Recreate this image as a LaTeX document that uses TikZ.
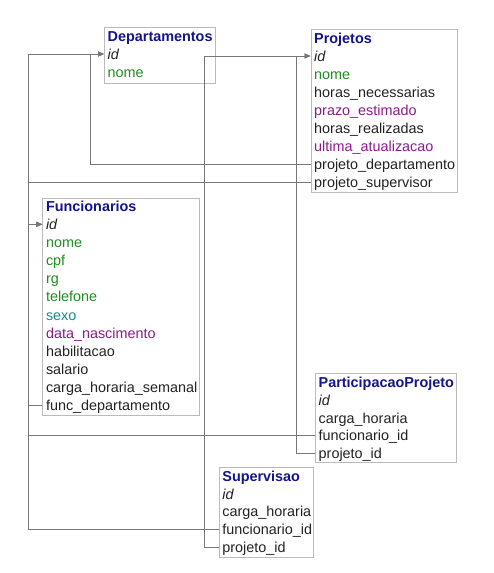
\documentclass[tikz,border=0pt]{standalone}
\usepackage{fontspec}
\setmainfont{Liberation Sans}
\usetikzlibrary{arrows.meta}
\definecolor{ttl}{HTML}{14148C}
\definecolor{grn}{HTML}{228B22}
\definecolor{prp}{HTML}{8B1A8B}
\definecolor{tel}{HTML}{1A8A8A}
\definecolor{txt}{HTML}{222222}
\definecolor{brd}{HTML}{BBBBBB}
\definecolor{lin}{HTML}{777777}
\tikzset{
  tbl/.style={draw=brd, line width=1pt, anchor=north west, inner sep=0pt},
  row/.style={anchor=west, inner xsep=3.5pt, inner ysep=0pt, text height=10.4pt, text depth=0pt,
              font=\fontsize{14.4}{16}\selectfont, text=txt},
  ttlrow/.style={row, font=\fontsize{14.4}{16}\selectfont\bfseries, text=ttl},
  conn/.style={draw=lin, line width=1pt},
  fk/.style={conn, -{Triangle[length=6pt,width=5pt]}}
}
\begin{document}
\begin{tikzpicture}[x=1pt,y=-1pt]
\useasboundingbox (0,0) rectangle (493,573);

% Departamentos
\node[tbl, minimum width=111pt, minimum height=55.4pt] (dep) at (104,27.3) {};
\node[ttlrow] (d-t) at (104,36.5) {Departamentos};
\node[row] (d-id) at (104,54) {\itshape id};
\node[row, text=grn] (d-nome) at (104,72) {nome};

% Projetos
\node[tbl, minimum width=146pt, minimum height=163pt] (proj) at (310.5,29.3) {};
\node[ttlrow] (p-t) at (310.5,38) {Projetos};
\node[row] (p-id) at (310.5,56) {\itshape id};
\node[row, text=grn] (p-nome) at (310.5,74) {nome};
\node[row] (p-hn) at (310.5,92) {horas\_necessarias};
\node[row, text=prp] (p-pe) at (310.5,110) {prazo\_estimado};
\node[row] (p-hr) at (310.5,128) {horas\_realizadas};
\node[row, text=prp] (p-ua) at (310.5,146) {ultima\_atualizacao};
\node[row] (p-pdep) at (310.5,164) {projeto\_departamento};
\node[row] (p-psup) at (310.5,182) {projeto\_supervisor};

% Funcionarios
\node[tbl, minimum width=157pt, minimum height=217pt] (func) at (42.3,198.3) {};
\node[ttlrow] (f-t) at (42.3,206.5) {Funcionarios};
\node[row] (f-id) at (42.3,224.3) {\itshape id};
\node[row, text=grn] (f-nome) at (42.3,242.4) {nome};
\node[row, text=grn] (f-cpf) at (42.3,260.5) {cpf};
\node[row, text=grn] (f-rg) at (42.3,278.6) {rg};
\node[row, text=grn] (f-tel) at (42.3,296.7) {telefone};
\node[row, text=tel] (f-sexo) at (42.3,314.8) {sexo};
\node[row, text=prp] (f-dn) at (42.3,332.9) {data\_nascimento};
\node[row] (f-hab) at (42.3,351) {habilitacao};
\node[row] (f-sal) at (42.3,369.1) {salario};
\node[row] (f-chs) at (42.3,387.2) {carga\_horaria\_semanal};
\node[row] (f-fdep) at (42.3,405.3) {func\_departamento};

% ParticipacaoProjeto
\node[tbl, minimum width=140.7pt, minimum height=89.5pt] (part) at (315,372.7) {};
\node[ttlrow] (pp-t) at (315,382.2) {ParticipacaoProjeto};
\node[row] (pp-id) at (315,400.2) {\itshape id};
\node[row] (pp-ch) at (315,418) {carga\_horaria};
\node[row] (pp-fid) at (315,435.7) {funcionario\_id};
\node[row] (pp-pid) at (315,453.4) {projeto\_id};

% Supervisao
\node[tbl, minimum width=94.6pt, minimum height=90.3pt] (sup) at (218.7,466.7) {};
\node[ttlrow] (s-t) at (218.7,476) {Supervisao};
\node[row] (s-id) at (218.7,494) {\itshape id};
\node[row] (s-ch) at (218.7,511.7) {carga\_horaria};
\node[row] (s-fid) at (218.7,529.3) {funcionario\_id};
\node[row] (s-pid) at (218.7,547.3) {projeto\_id};

% connectors
\draw[fk] (p-pdep.west) -| ([xshift=-13.5pt]d-id.west) -- (d-id.west);
\draw[fk] (f-fdep.west) -| ([xshift=-75.7pt]d-id.west) -- (d-id.west);
\draw[fk] (p-psup.west) -| ([xshift=-14pt]f-id.west) -- (f-id.west);
\draw[fk] (pp-fid.west) -| ([xshift=-14pt]f-id.west) -- (f-id.west);
\draw[fk] (s-fid.west) -| ([xshift=-14pt]f-id.west) -- (f-id.west);
\draw[fk] (s-pid.west) -| ([xshift=-106.2pt]p-id.west) -- (p-id.west);
\draw[fk] (pp-pid.west) -| ([xshift=-14pt]p-id.west) -- (p-id.west);
\end{tikzpicture}
\end{document}
